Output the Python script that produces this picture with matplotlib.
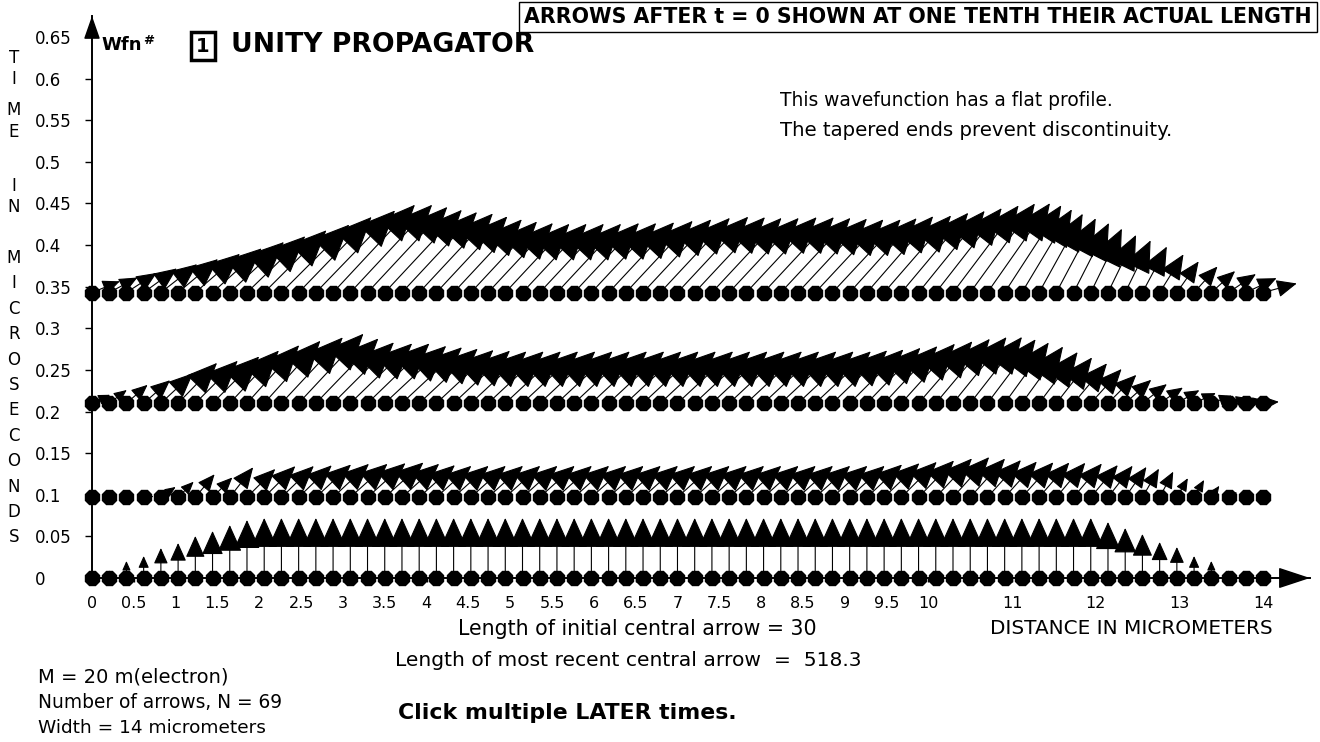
import numpy as np
import matplotlib
matplotlib.use("Agg")
import matplotlib.pyplot as plt

plt.rcParams['font.family'] = ['DejaVu Sans']

# ---- data ----
N_ARROWS = 69
WIDTH_UM = 14
MASS = 20
INITIAL_CENTRAL = 30
RECENT_CENTRAL = 518.3

# t = 0 arrows (vertical), lengths in the same units as "initial central arrow = 30"
init_len = [0, 4, 8.5, 11, 15, 17.5, 21, 23.5, 26.5, 29] + [30] * 49 + \
           [28, 25, 22, 18, 15.5, 11, 8.5, 4, 0, 0]

# later times (microseconds) and their arrows: actual length and angle (deg)
row_times = [0.097, 0.21, 0.343]

len_t1 = [0, 0, 0, 50, 90, 110, 150, 140, 190, 200,
          220, 225, 230, 240, 245, 250, 255, 260, 250, 240] + [235] * 25 + \
         [240, 245, 250, 255, 265,
          270, 260, 250, 240, 235, 230, 225, 220, 210, 200,
          185, 165, 145, 110, 100, 70, 50, 0, 0]
ang_t1 = [0, 0, 0, 5, 35, 45, 50, 45, 52, 45,
          45, 44, 44, 43, 43, 42, 42, 42, 42, 42] + [42] * 25 + \
         [43, 44, 45, 46, 47,
          48, 48, 48, 48, 48, 49, 50, 50, 50, 52,
          55, 60, 62, 60, 60, 55, 30, 0, 0]

len_t2 = [100, 110, 140, 175, 220, 280, 300, 330, 360, 390,
          420, 450, 475, 450, 430, 430, 430, 420, 410, 400,
          390, 385] + [380] * 23 + \
         [385, 390, 400, 410, 420,
          425, 420, 400, 375, 350, 320, 290, 260, 230, 200,
          175, 155, 140, 130, 120, 110, 100, 90, 80]
ang_t2 = [25, 37, 41, 41, 43, 46, 45, 45, 47, 48,
          48, 47, 47, 46, 45, 44, 44, 43, 43, 43] + [43] * 23 + \
         [44, 45, 46, 47, 48, 49, 50,
          51, 52, 53, 54, 54, 53, 52, 50, 48, 45,
          42, 38, 34, 30, 25, 20, 15, 10, 5]

len_t3 = [150, 160, 180, 205, 230, 260, 295, 330, 370, 405,
          440, 480, 525, 570, 600, 600, 585, 565, 550, 540,
          520, 500, 485, 475, 470, 470, 470, 470, 475, 475,
          480, 490, 500, 510, 518.3, 515, 510, 510, 515, 515,
          510, 505, 500, 500, 500, 505, 510, 520, 525, 535,
          545, 550, 545, 520, 485, 450, 420, 390, 355, 320,
          290, 260, 225, 190, 175, 160, 165, 170, 175]
ang_t3 = [22, 28, 33, 36, 38, 40, 41, 42, 43, 44,
          45, 45, 46, 46] + [47] * 30 + \
         [48, 49, 49, 50, 51, 52,
          53, 54, 55, 57, 59, 61, 62, 63, 64, 64,
          64, 62, 58, 55, 48, 42, 34, 25, 15]

later_lengths = [len_t1, len_t2, len_t3]
later_angles = [ang_t1, ang_t2, ang_t3]

XTICKS = [0, 0.5, 1, 1.5, 2, 2.5, 3, 3.5, 4, 4.5, 5, 5.5, 6, 6.5, 7, 7.5,
          8, 8.5, 9, 9.5, 10, 11, 12, 13, 14]
XTICK_LABELS = ['0', '0.5', '1', '1.5', '2', '2.5', '3', '3.5', '4', '4.5',
                '5', '5.5', '6', '6.5', '7', '7.5', '8', '8.5', '9', '9.5',
                '10', '11', '12', '13', '14']
YTICKS = [0, 0.05, 0.1, 0.15, 0.2, 0.25, 0.3, 0.35, 0.4, 0.45, 0.5, 0.55, 0.6, 0.65]
YTICK_LABELS = ['0', '0.05', '0.1', '0.15', '0.2', '0.25', '0.3', '0.35',
                '0.4', '0.45', '0.5', '0.55', '0.6', '0.65']

YLABEL_LETTERS = list("TIMEINMICROSECONDS")
YLABEL_PX = [58, 79, 110, 132, 186, 207, 258, 283, 309, 334, 360, 385,
             410, 436, 461, 487, 512, 537]

# ---- drawing ----
W, H, DPI = 1320, 742, 100
PT = 72.0 / DPI          # points per pixel
PX_PER_LEN = 2.0         # screen pixels per arrow-length unit


def fx(px):
    return px / W


def fy(py):
    return 1 - py / H


def draw_arrow(ax, x, t, length_px, angle_deg, head_frac, head_max, head_w):
    if length_px <= 0:
        return
    a = np.radians(angle_deg)
    dx = length_px * np.cos(a)
    dy = length_px * np.sin(a)
    head = min(head_frac * length_px, head_max)
    ax.annotate('', xy=(x, t), xytext=(dx, dy), textcoords='offset pixels',
                annotation_clip=False,
                arrowprops=dict(arrowstyle=f'<|-,head_length=1,head_width={head_w}',
                                mutation_scale=head * PT, shrinkA=0, shrinkB=0,
                                color='black', lw=0.8))


fig = plt.figure(figsize=(W / DPI, H / DPI), dpi=DPI)
fig.patch.set_facecolor('white')

ax = fig.add_axes([fx(92), fy(578), (1310 - 92) / W, (578 - 16) / H])
ax.set_xlim(0, (1310 - 92) / 83.64)
ax.set_ylim(0, (578 - 16) / 832.3)
ax.set_facecolor('white')

positions = np.linspace(0, WIDTH_UM, N_ARROWS)

# initial wavefunction: vertical arrows
for x, L in zip(positions, init_len):
    draw_arrow(ax, x, 0, L * PX_PER_LEN, 90, 0.45, 28, 0.45)

# later times: arrows shown at one tenth of actual length
for t, lens, angs in zip(row_times, later_lengths, later_angles):
    for x, L, ang in zip(positions, lens, angs):
        draw_arrow(ax, x, t, L / 10 * PX_PER_LEN, ang, 0.5, 34, 0.44)

for t in [0] + row_times:
    ax.plot(positions, [t] * N_ARROWS, ls='none', marker='8', ms=11,
            color='black', zorder=5, clip_on=False)

# axes
for s in ['top', 'right']:
    ax.spines[s].set_visible(False)
for s in ['left', 'bottom']:
    ax.spines[s].set_linewidth(1.4)
    ax.spines[s].set_zorder(6)

ax.annotate('', xy=(1, 0), xycoords='axes fraction', xytext=(-28, 0),
            textcoords='offset pixels', annotation_clip=False,
            arrowprops=dict(arrowstyle='-|>,head_length=1,head_width=0.33',
                            mutation_scale=28 * PT, shrinkA=0, shrinkB=0,
                            color='black', lw=1))
ax.annotate('', xy=(0, 1), xycoords='axes fraction', xytext=(0, -20),
            textcoords='offset pixels', annotation_clip=False,
            arrowprops=dict(arrowstyle='-|>,head_length=1,head_width=0.35',
                            mutation_scale=20 * PT, shrinkA=0, shrinkB=0,
                            color='black', lw=1))

ax.set_yticks(YTICKS, YTICK_LABELS)
ax.tick_params(axis='y', direction='out', length=5, width=1, pad=36, labelsize=12)
for lab in ax.get_yticklabels():
    lab.set_horizontalalignment('left')
ax.set_xticks(XTICKS, XTICK_LABELS)
ax.tick_params(axis='x', direction='out', length=3, width=1, pad=10, labelsize=11.5)

for ch, py in zip(YLABEL_LETTERS, YLABEL_PX):
    fig.text(fx(14), fy(py), ch, ha='center', va='center', fontsize=12)

# header
fig.text(fx(101), fy(45), 'Wfn', ha='left', va='center', fontsize=13,
         fontweight='bold')
fig.text(fx(143), fy(41), '#', ha='left', va='center', fontsize=9.5,
         fontweight='bold')
fig.text(fx(203), fy(46), '1', ha='center', va='center', fontsize=14,
         fontweight='bold',
         bbox=dict(boxstyle='square,pad=0.25', fc='white', ec='black', lw=2.5))
fig.text(fx(231), fy(45), 'UNITY PROPAGATOR', ha='left', va='center',
         fontsize=19.2, fontweight='bold')
fig.text(fx(918), fy(17), 'ARROWS AFTER t = 0 SHOWN AT ONE TENTH THEIR ACTUAL LENGTH',
         ha='center', va='center', fontsize=14.8, fontweight='bold', zorder=10,
         bbox=dict(boxstyle='square,pad=0.25', fc='white', ec='black', lw=1))

fig.text(fx(780), fy(101), 'This wavefunction has a flat profile.',
         ha='left', va='center', fontsize=13.4)
fig.text(fx(780), fy(130), 'The tapered ends prevent discontinuity.',
         ha='left', va='center', fontsize=14.2)

# footer
fig.text(fx(458), fy(629), f'Length of initial central arrow = {INITIAL_CENTRAL}',
         ha='left', va='center', fontsize=14.8)
fig.text(fx(990), fy(629), 'DISTANCE IN MICROMETERS', ha='left', va='center',
         fontsize=14.4)
fig.text(fx(395), fy(660), f'Length of most recent central arrow  =  {RECENT_CENTRAL}',
         ha='left', va='center', fontsize=14.6)
fig.text(fx(38), fy(677), f'M = {MASS} m(electron)', ha='left', va='center',
         fontsize=14)
fig.text(fx(38), fy(703), f'Number of arrows, N = {N_ARROWS}', ha='left',
         va='center', fontsize=13.4)
fig.text(fx(38), fy(728), f'Width = {WIDTH_UM} micrometers', ha='left',
         va='center', fontsize=13.3)
fig.text(fx(398), fy(713), 'Click multiple LATER times.', ha='left',
         va='center', fontsize=15.8, fontweight='bold')

fig.savefig('out.png', dpi=DPI, facecolor='white')
